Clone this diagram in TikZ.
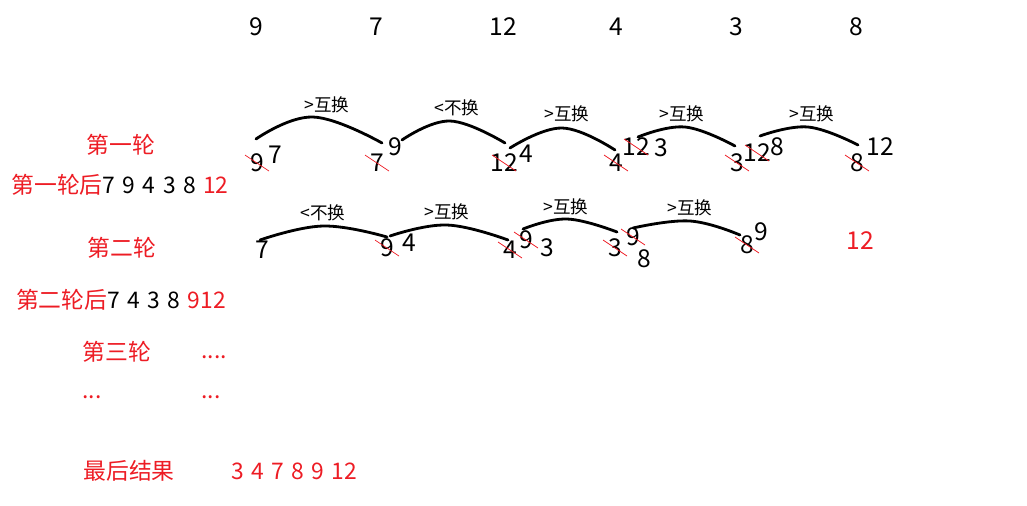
\documentclass[tikz,border=0pt]{standalone}
\usepackage{fontspec}
\setmainfont[WordSpace=1.45]{Noto Sans CJK SC}
\usetikzlibrary{calc}

\tikzset{
    num/.style={inner sep=0pt, font=\fontsize{14}{16}\selectfont},
    tag/.style={inner sep=0pt, font=\fontsize{10}{12}\selectfont},
    round/.style={inner sep=0pt, text=sortRed, font=\fontsize{13}{15}\selectfont},
    hump/.style={line width=1.6pt, line cap=round},
    strike/.style={draw=sortRed, line width=0.4pt},
}

% Number with a red line through it
\newcommand{\crossnum}[4]{%
    \node[num] (#1) at (#2,#3) {#4};
    \draw[strike] ($(#1)+(-12,-8)$) -- ($(#1)+(12,8)$);
}

\begin{document}
\begin{tikzpicture}[x=0.02cm, y=-0.02cm]
    % Define colours
    \definecolor{sortRed}{HTML}{ED1C24}

    \useasboundingbox (0,0) rectangle (1027,505);

    % Starting order
    \foreach \v/\x in {9/256, 7/376, 12/503, 4/616, 3/736, 8/856}
        \node[num] (top\x) at (\x,27) {\v};

    % First pass: numbers
    \crossnum{a1}{257}{163}{9}
    \node[num] (a1n) at (275,155) {7};
    \crossnum{b1}{377}{163}{7}
    \node[num] (b1n) at (395,147) {9};
    \crossnum{c1}{504}{163}{12}
    \node[num] (c1n) at (526,154) {4};
    \crossnum{d1}{616}{163}{4}
    \crossnum{d1n}{636}{147}{12}
    \node[num] (d1m) at (661,148) {3};
    \crossnum{e1}{737}{163}{3}
    \crossnum{e1n}{757}{153}{12}
    \node[num] (e1m) at (777,147) {8};
    \crossnum{f1}{857}{163}{8}
    \node[num] (f1n) at (880,147) {12};

    % First pass: arcs and their labels
    \draw[hump] plot[smooth, tension=0.7] coordinates {(256,139) (313,117) (382,143)};
    \node[tag] (s1) at (327,105) {>互换};
    \draw[hump] plot[smooth, tension=0.7] coordinates {(402,140) (450,121) (505,143)};
    \node[tag] (s2) at (457,108) {<不换};
    \draw[hump] plot[smooth, tension=0.7] coordinates {(510,148) (562,128) (615,150)};
    \node[tag] (s3) at (567,114) {>互换};
    \draw[hump] plot[smooth, tension=0.7] coordinates {(638,137) (685,127) (735,146)};
    \node[tag] (s4) at (682,114) {>互换};
    \draw[hump] plot[smooth, tension=0.7] coordinates {(760,136) (808,127) (858,145)};
    \node[tag] (s5) at (812,114) {>互换};

    % Second pass: numbers
    \node[num] (a2) at (262,250) {7};
    \crossnum{b2}{387}{248}{9}
    \node[num] (b2n) at (409,243) {4};
    \crossnum{c2}{510}{250}{4}
    \crossnum{c2n}{526}{240}{9}
    \node[num] (c2m) at (547,248) {3};
    \crossnum{d2}{615}{248}{3}
    \crossnum{d2n}{633}{237}{9}
    \node[num] (d2m) at (644,259) {8};
    \crossnum{e2}{747}{245}{8}
    \node[num] (e2n) at (761,232) {9};
    \node[num, text=sortRed] (f2) at (860,241) {12};

    % Second pass: arcs and their labels
    \draw[hump] plot[smooth, tension=0.7] coordinates {(260,240) (323,226) (387,237)};
    \node[tag] (t1) at (323,213) {<不换};
    \draw[hump] plot[smooth, tension=0.7] coordinates {(390,236) (447,225) (508,240)};
    \node[tag] (t2) at (447,212) {>互换};
    \draw[hump] plot[smooth, tension=0.7] coordinates {(523,229) (567,219) (617,232)};
    \node[tag] (t3) at (566,207) {>互换};
    \draw[hump] plot[smooth, tension=0.7] coordinates {(633,228) (690,221) (740,235)};
    \node[tag] (t4) at (690,208) {>互换};

    % Left column
    \node[round] (pass1) at (121,145) {第一轮};
    \node[round] (after1) at (120,185) {第一轮后\textcolor{black}{7 9 4 3 8} 12};
    \node[round] (pass2) at (122,248) {第二轮};
    \node[round] (after2) at (121,300) {第二轮后\textcolor{black}{7 4 3 8} 912};
    \node[round] (pass3) at (117,352) {第三轮};
    \node[round, anchor=base] (dotsA) at (214,358) {....};
    \node[round, anchor=base] (dotsB) at (92,398) {...};
    \node[round, anchor=base] (dotsC) at (211,398) {...};
    \node[round] (final) at (129,471) {最后结果};
    \node[round] (result) at (294,471) {3 4 7 8 9 12};

\end{tikzpicture}
\end{document}
